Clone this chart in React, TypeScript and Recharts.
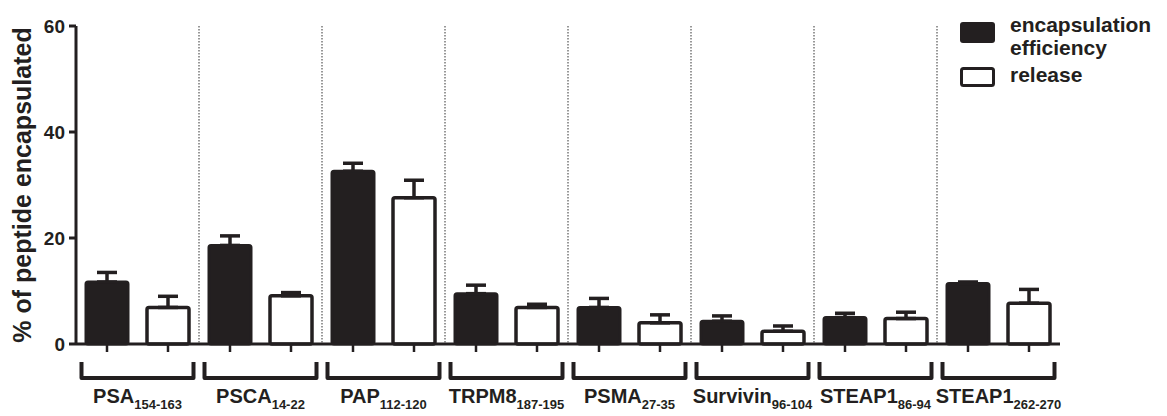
import React from 'react';
import { BarChart, Bar, XAxis, YAxis, CartesianGrid, ErrorBar, Legend } from 'recharts';

const peptides = ['PSA', 'PSCA', 'PAP', 'TRPM8', 'PSMA', 'Survivin', 'STEAP1', 'STEAP1'];
const positions = ['154-163', '14-22', '112-120', '187-195', '27-35', '96-104', '86-94', '262-270'];
const encapsulation = [11.7, 18.6, 32.6, 9.5, 6.9, 4.3, 5.0, 11.4];
const encapsulationErr = [1.8, 1.8, 1.5, 1.6, 1.7, 1.0, 0.8, 0.3];
const release = [6.9, 9.1, 27.6, 6.9, 4.0, 2.4, 4.8, 7.7];
const releaseErr = [2.1, 0.6, 3.3, 0.6, 1.5, 1.0, 1.2, 2.6];
const yTicks = [0, 20, 40, 60];

const INK = '#231f20';
const FONT = "'Liberation Sans', Arial, sans-serif";
const BAR_SIZE = 42;
const BAR_GAP = 19;

const data = peptides.map((p, i) => ({
    key: `${p}${positions[i]}`,
    name: p,
    sub: positions[i],
    enc: encapsulation[i],
    encErr: [0, encapsulationErr[i]],
    rel: release[i],
    relErr: [0, releaseErr[i]],
}));

// tick marks under each bar, the group bracket and the peptide label
const GroupTick = (props: any) => {
    const { x, y, index } = props;
    const item = data[index];
    const half = (BAR_SIZE + BAR_GAP) / 2;
    const bw = half + BAR_SIZE / 2 + 4.5;
    return (
        <g>
            <line x1={x - half} x2={x - half} y1={y} y2={y + 8} stroke={INK} strokeWidth={2.5} />
            <line x1={x + half} x2={x + half} y1={y} y2={y + 8} stroke={INK} strokeWidth={2.5} />
            <path
                d={`M${x - bw},${y + 18} V${y + 34} H${x + bw} V${y + 18}`}
                fill="none"
                stroke={INK}
                strokeWidth={4}
                strokeLinejoin="round"
            />
            <text x={x} y={y + 59} textAnchor="middle" fontFamily={FONT} fontWeight="bold" fontSize={20} fill={INK}>
                {item.name}
                <tspan fontSize={13} dy={6}>{item.sub}</tspan>
            </text>
        </g>
    );
};

const renderLegend = () => (
    <svg width={217} height={84}>
        <rect x={10} y={12} width={35} height={21} rx={3} fill={INK} />
        <rect x={11.5} y={58.5} width={32} height={17} rx={2} fill="#fff" stroke={INK} strokeWidth={3} />
        <g fontFamily={FONT} fontWeight="bold" fontSize={21} fill={INK}>
            <text x={60} y={22}>encapsulation</text>
            <text x={60} y={45}>efficiency</text>
            <text x={60} y={72}>release</text>
        </g>
    </svg>
);

const App: React.FC = () => {
    return (
        <div style={{ position: 'absolute', left: 0, top: 0, background: '#fff' }}>
            <BarChart
                width={1167}
                height={416}
                data={data}
                margin={{ top: 26, right: 107, left: 0, bottom: 6 }}
                barSize={BAR_SIZE}
                barGap={BAR_GAP}
            >
                <CartesianGrid
                    horizontal={false}
                    stroke="#777"
                    strokeWidth={1.5}
                    strokeDasharray="1.5 1.5"
                    verticalCoordinatesGenerator={({ offset }: any) =>
                        data.slice(1).map((_, i) => offset.left + ((i + 1) * offset.width) / data.length)
                    }
                />
                <XAxis
                    dataKey="key"
                    height={66}
                    interval={0}
                    tickLine={false}
                    tickSize={0}
                    tickMargin={0}
                    axisLine={{ stroke: INK, strokeWidth: 3 }}
                    tick={<GroupTick />}
                />
                <YAxis
                    width={76}
                    domain={[0, 60]}
                    ticks={yTicks}
                    tickSize={7}
                    tickMargin={4}
                    axisLine={{ stroke: INK, strokeWidth: 3 }}
                    tickLine={{ stroke: INK, strokeWidth: 3 }}
                    tick={{ fill: INK, fontSize: 19, fontWeight: 'bold', fontFamily: FONT }}
                    label={{
                        value: '% of peptide encapsulated',
                        angle: -90,
                        position: 'center',
                        dx: -16,
                        style: { fill: INK, fontSize: 25, fontWeight: 'bold', fontFamily: FONT },
                    }}
                />
                <Legend
                    layout="vertical"
                    align="center"
                    verticalAlign="middle"
                    wrapperStyle={{ left: 950, top: 10, width: 217, height: 84 }}
                    content={renderLegend}
                />
                <Bar dataKey="enc" fill={INK} stroke={INK} strokeWidth={3} radius={2} isAnimationActive={false}>
                    <ErrorBar dataKey="encErr" width={10} strokeWidth={3.5} stroke={INK} direction="y" />
                </Bar>
                <Bar dataKey="rel" fill="#fff" stroke={INK} strokeWidth={3.5} radius={2} isAnimationActive={false}>
                    <ErrorBar dataKey="relErr" width={10} strokeWidth={3.5} stroke={INK} direction="y" />
                </Bar>
            </BarChart>
        </div>
    );
};

export default App;
